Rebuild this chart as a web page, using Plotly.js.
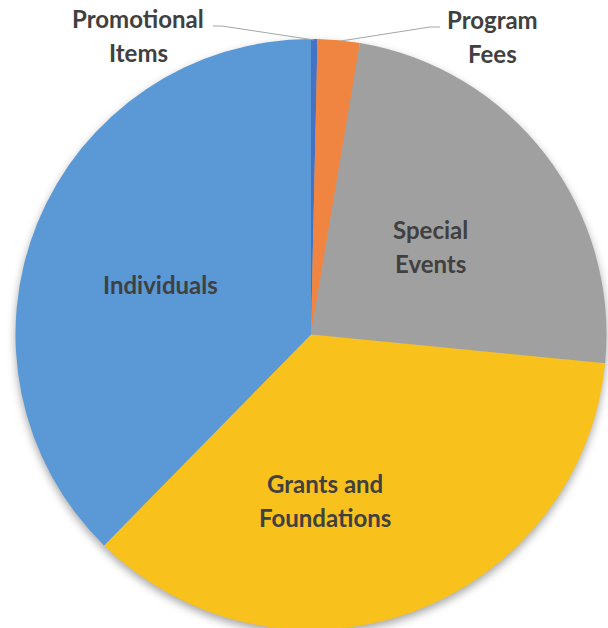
<!DOCTYPE html>
<html>
<head>
<meta charset="utf-8">
<script src="https://cdn.plot.ly/plotly-3.0.1.min.js"></script>
<style>
  html, body { margin: 0; padding: 0; background: #ffffff; overflow: hidden; }
  #chart { width: 608px; height: 630px; }
  .pielayer { filter: drop-shadow(0px 4px 4px rgba(0,0,0,0.35)); }
</style>
</head>
<body>
<div id="chart"></div>
<script>
// ---- data ----
const categories = ["Promotional Items", "Program Fees", "Special Events", "Grants and Foundations", "Individuals"];
const values = [0.35, 2.3, 23.9, 35.8, 37.65];
const colors = ["#4472C4", "#EF8540", "#A0A0A0", "#F9C11C", "#5A99D6"];

// ---- layout geometry ----
const W = 608, H = 630;
const M = { l: 15, r: 1, t: 39, b: 0 };
const plotW = W - M.l - M.r, plotH = H - M.t - M.b;
const px = x => (x - M.l) / plotW;          // pixel x -> paper
const py = y => (H - M.b - y) / plotH;      // pixel y -> paper

const R = Math.min(plotW, plotH) / 2;
const cx = M.l + plotW / 2, cy = M.t + plotH / 2;
const total = values.reduce((a, b) => a + b, 0);
// angle (deg, clockwise from 12 o'clock) of the middle of slice i
function midAngle(i) {
  let s = 0;
  for (let k = 0; k < i; k++) s += values[k];
  return (s + values[i] / 2) / total * 360;
}
function edgePoint(i) {
  const a = midAngle(i) * Math.PI / 180;
  return [cx + R * Math.sin(a), cy - R * Math.cos(a)];
}

const font = { family: "Lato, 'Open Sans', sans-serif", size: 24, color: "#404040" };
function lbl(text, x, y) {
  return { text: "<b>" + text + "</b>", x: px(x), y: py(y), xref: "paper", yref: "paper",
           showarrow: false, font: font, xanchor: "center", yanchor: "middle" };
}

const annotations = [
  lbl("Promotional", 138, 19), lbl("Items", 138, 52),
  lbl("Program", 492, 20), lbl("Fees", 492, 53),
  lbl("Special", 430, 229), lbl("Events", 430, 263),
  lbl("Individuals", 160, 284),
  lbl("Grants and", 325, 483), lbl("Foundations", 325, 517)
];

const p0 = edgePoint(0), p1 = edgePoint(1);
const lineStyle = { color: "#A6A6A6", width: 1 };
const shapes = [
  { type: "path", xref: "paper", yref: "paper", line: lineStyle,
    path: `M ${px(213)} ${py(26)} L ${px(222)} ${py(26)} L ${px(p0[0])} ${py(p0[1] + 1)}` },
  { type: "path", xref: "paper", yref: "paper", line: lineStyle,
    path: `M ${px(440)} ${py(27)} L ${px(430)} ${py(27)} L ${px(p1[0])} ${py(p1[1] + 1)}` }
];

const trace = {
  type: "pie",
  labels: categories,
  values: values,
  sort: false,
  direction: "clockwise",
  rotation: 0,
  textinfo: "none",
  hoverinfo: "none",
  marker: { colors: colors, line: { width: 0 } },
  domain: { x: [0, 1], y: [0, 1] }
};

const layout = {
  width: W, height: H,
  margin: M,
  showlegend: false,
  paper_bgcolor: "#ffffff",
  plot_bgcolor: "#ffffff",
  annotations: annotations,
  shapes: shapes
};

Plotly.newPlot("chart", [trace], layout, { displayModeBar: false, staticPlot: true });
</script>
</body>
</html>
